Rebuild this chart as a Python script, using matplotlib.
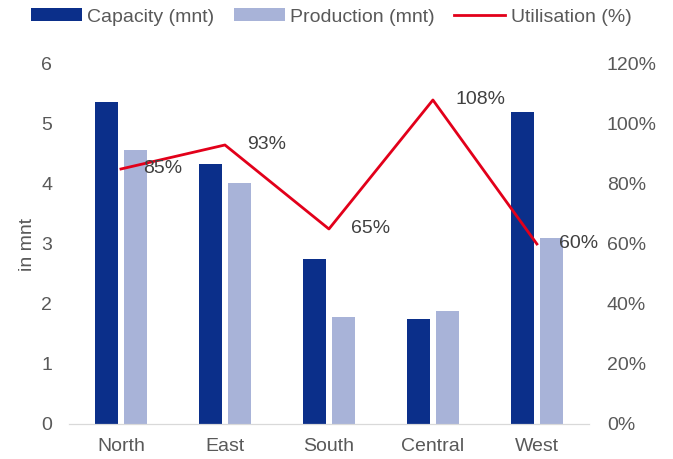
import matplotlib
matplotlib.use("Agg")
import matplotlib.pyplot as plt
import numpy as np

plt.rcParams['font.family'] = ['Liberation Sans', 'DejaVu Sans']

regions = ['North', 'East', 'South', 'Central', 'West']
capacity = [5.36, 4.33, 2.75, 1.75, 5.20]
production = [4.57, 4.01, 1.79, 1.89, 3.10]
utilisation = [85, 93, 65, 108, 60]

cap_color = '#0B2F8A'
prod_color = '#A8B3D8'
line_color = '#E2001A'
text_color = '#595959'
fs = 14

fig = plt.figure(figsize=(6.73, 4.59), dpi=100)
ax = fig.add_axes([0.1025, 0.0763, 0.7725, 0.7843])
ax2 = ax.twinx()

x = np.arange(len(regions))
w = 0.22
ax.bar(x - 0.14, capacity, w, color=cap_color, label='Capacity (mnt)')
ax.bar(x + 0.14, production, w, color=prod_color, label='Production (mnt)')
ax2.plot(x, utilisation, color=line_color, lw=2, label='Utilisation (%)')

for xi, u in zip(x, utilisation):
    ax2.annotate(f'{u}%', (xi, u), xytext=(16, 0), textcoords='offset points',
                 ha='left', va='center', fontsize=fs, color='#404040')

ax.set_xlim(-0.5, 4.5)
ax.set_ylim(0, 6)
ax2.set_ylim(0, 120)
ax.set_yticks(range(7))
ax2.set_yticks(range(0, 121, 20))
ax2.set_yticklabels([f'{v}%' for v in range(0, 121, 20)])
ax.set_xticks(x)
ax.set_xticklabels(regions)
ax.set_ylabel('in mnt', fontsize=fs, color=text_color, labelpad=4)

for a in (ax, ax2):
    for s in ('top', 'left', 'right'):
        a.spines[s].set_visible(False)
    a.spines['bottom'].set_color('#D9D9D9')
    a.tick_params(length=0, labelsize=fs, colors=text_color)
ax.tick_params(axis='y', pad=12)
ax2.tick_params(axis='y', pad=13)
ax.tick_params(axis='x', pad=10)

h1, l1 = ax.get_legend_handles_labels()
h2, l2 = ax2.get_legend_handles_labels()
leg = fig.legend(h1 + h2, l1 + l2, loc='center left',
                 bbox_to_anchor=(31 / 673, 1 - 17 / 459),
                 ncol=3, frameon=False, fontsize=fs, handlelength=2.6,
                 handleheight=0.6, columnspacing=1.0, handletextpad=0.3,
                 borderaxespad=0, borderpad=0)
for t in leg.get_texts():
    t.set_color(text_color)

fig.savefig('out.png', dpi=100)
